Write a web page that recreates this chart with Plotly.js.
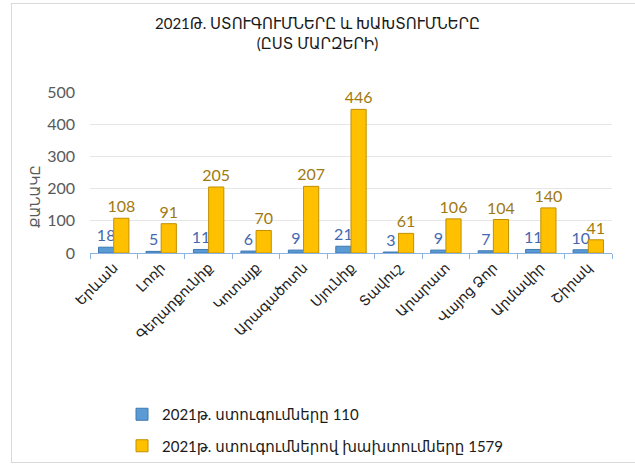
<!DOCTYPE html>
<html>
<head>
<meta charset="utf-8">
<script src="https://cdn.plot.ly/plotly-3.0.1.min.js"></script>
<style>
html,body{margin:0;padding:0;background:#fff;overflow:hidden;}
#wrap{position:relative;width:635px;height:464px;}
#chart{position:absolute;left:0;top:0;width:635px;height:464px;}
#frame{position:absolute;left:11px;top:3px;width:700px;height:458px;border:1px solid #d9d9d9;pointer-events:none;}
</style>
</head>
<body>
<div id="wrap"><div id="chart"></div><div id="frame"></div></div>
<script>
var regions = ["Երևան","Լոռի","Գեղարքունիք","Կոտայք","Արագածոտն","Սյունիք","Տավուշ","Արարատ","Վայոց Ձոր","Արմավիր","Շիրակ"];
var inspections = [18,5,11,6,9,21,3,9,7,11,10];
var violations = [108,91,205,70,207,446,61,106,104,140,41];
var seriesNames = ["2021թ. ստուգումները 110","2021թ. ստուգումներով խախտումները 1579"];
var yTicks = [0,100,200,300,400,500];
var titleText = "2021Թ. ՍՏՈՒԳՈՒՄՆԵՐԸ և ԽԱԽՏՈՒՄՆԵՐԸ<br>(ԸՍՏ ՄԱՐԶԵՐԻ)";
var yTitle = "ՔԱՆԱԿԸ";

var FONT = "Lato, 'DejaVu Sans', sans-serif";

var traces = [
  {
    type: "bar", x: regions, y: inspections, name: seriesNames[0],
    legendgroup: "a",
    marker: {color: "#5b9bd5", line: {color: "#3f79b0", width: 1}},
    text: inspections.map(String), textposition: "outside", constraintext: "none",
    textfont: {family: FONT, size: 16, color: "#4468b0"},
    cliponaxis: false, hoverinfo: "x+y"
  },
  {
    type: "bar", x: regions, y: violations, name: seriesNames[1],
    legendgroup: "b",
    marker: {color: "#ffc000", line: {color: "#c09000", width: 1}},
    text: violations.map(String), textposition: "outside", constraintext: "none",
    textfont: {family: FONT, size: 16, color: "#a07a10"},
    cliponaxis: false, hoverinfo: "x+y"
  }
];

var layout = {
  width: 635, height: 464,
  margin: {l: 90, r: 23, t: 92, b: 211, autoexpand: false},
  paper_bgcolor: "#ffffff", plot_bgcolor: "#ffffff",
  font: {family: FONT, color: "#222"},
  title: {
    text: titleText,
    font: {family: FONT, size: 15, color: "#1a1a1a"},
    x: 0.5, xanchor: "center", xref: "container",
    y: 1 - 29/464, yanchor: "middle", yref: "container"
  },
  barmode: "group", bargap: 0.36, bargroupgap: 0,
  xaxis: {
    type: "category", automargin: false,
    tickangle: -45,
    tickfont: {family: FONT, size: 14, color: "#222"},
    showline: true, linecolor: "#8db3e2", linewidth: 1,
    ticks: "outside", tickson: "boundaries", ticklen: 5, tickcolor: "#8db3e2",
    showgrid: false, fixedrange: true
  },
  yaxis: {
    range: [0, 500], tickvals: yTicks, automargin: false,
    tickfont: {family: FONT, size: 16, color: "#595959"},
    showgrid: true, gridcolor: "#e6e6e6", gridwidth: 1,
    zeroline: false, showline: false, ticks: "", ticklabelstandoff: 14,
    fixedrange: true
  },
  annotations: [
    {
      text: yTitle, textangle: -90, showarrow: false,
      xref: "paper", yref: "paper",
      x: (34 - 90) / 522, y: (253 - 197) / 161,
      xanchor: "center", yanchor: "middle",
      font: {family: FONT, size: 14, color: "#595959"}
    }
  ],
  showlegend: true,
  legend: {
    orientation: "v",
    x: (122 - 90) / 522, xanchor: "left",
    y: (253 - 398) / 161, yanchor: "top",
    font: {family: FONT, size: 15, color: "#1a1a1a"},
    tracegroupgap: 9,
    bgcolor: "rgba(0,0,0,0)"
  }
};

Plotly.newPlot("chart", traces, layout, {displayModeBar: false, staticPlot: true});
</script>
</body>
</html>
